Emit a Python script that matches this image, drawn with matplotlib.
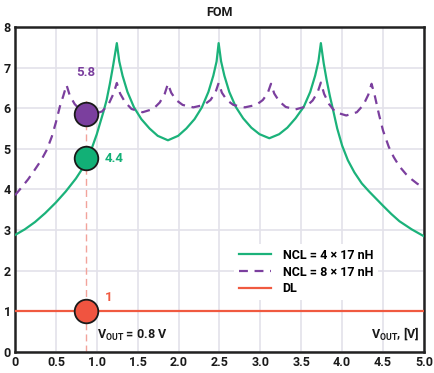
import matplotlib
matplotlib.use("Agg")
import matplotlib.pyplot as plt

plt.rcParams['font.family'] = ['Roboto', 'DejaVu Sans']
plt.rcParams['mathtext.fontset'] = 'custom'
plt.rcParams['mathtext.bf'] = 'Roboto:bold'
plt.rcParams['mathtext.rm'] = 'Roboto'

# NCL = 4 x 17 nH (green, solid)
ncl4_x = [0, 0.12, 0.245, 0.37, 0.5, 0.62, 0.745, 0.82, 0.88, 0.94, 1.0, 1.05, 1.08, 1.12, 1.16, 1.2, 1.245,
          1.275, 1.315, 1.375, 1.455, 1.545, 1.645, 1.745, 1.87, 1.995, 2.095, 2.195, 2.285, 2.365, 2.425, 2.465, 2.49,
          2.52, 2.56, 2.62, 2.70, 2.79, 2.89, 2.99, 3.11, 3.23, 3.33, 3.43, 3.53, 3.61, 3.67, 3.71, 3.74,
          3.775, 3.81, 3.85, 3.89, 3.94, 4.0, 4.07, 4.15, 4.24, 4.33, 4.5, 4.6, 4.7, 4.85, 5.0]
ncl4_y = [2.88, 3.02, 3.2, 3.42, 3.68, 3.95, 4.27, 4.5, 4.75, 5.02, 5.36, 5.7, 5.9, 6.2, 6.6, 7.05, 7.6,
          7.15, 6.8, 6.4, 6.02, 5.73, 5.5, 5.32, 5.21, 5.32, 5.5, 5.73, 6.02, 6.4, 6.8, 7.15, 7.6,
          7.15, 6.8, 6.4, 6.03, 5.75, 5.52, 5.36, 5.26, 5.36, 5.52, 5.75, 6.03, 6.4, 6.8, 7.15, 7.6,
          7.1, 6.7, 6.3, 5.95, 5.5, 5.08, 4.72, 4.42, 4.15, 3.95, 3.6, 3.4, 3.22, 3.02, 2.85]

# NCL = 8 x 17 nH (purple, dashed)
ncl8_x = [0, 0.08, 0.16, 0.24, 0.32, 0.39, 0.45, 0.5, 0.55, 0.59, 0.63,
          0.67, 0.73, 0.81, 0.94, 1.065, 1.145, 1.205, 1.245,
          1.285, 1.345, 1.425, 1.56, 1.69, 1.77, 1.83, 1.87,
          1.91, 1.97, 2.05, 2.18, 2.31, 2.39, 2.45, 2.49,
          2.53, 2.59, 2.67, 2.81, 2.95, 3.03, 3.09, 3.13,
          3.17, 3.23, 3.31, 3.43, 3.56, 3.64, 3.70, 3.74,
          3.78, 3.84, 3.92, 4.05, 4.18, 4.26, 4.32, 4.36,
          4.40, 4.45, 4.5, 4.57, 4.63, 4.7, 4.78, 4.85, 4.92, 5.0]
ncl8_y = [3.86, 4.05, 4.25, 4.48, 4.72, 4.98, 5.3, 5.65, 6.05, 6.3, 6.57,
          6.31, 6.1, 5.93, 5.84, 5.92, 6.1, 6.36, 6.62,
          6.36, 6.15, 5.98, 5.9, 5.98, 6.14, 6.35, 6.6,
          6.38, 6.2, 6.08, 6.02, 6.08, 6.2, 6.38, 6.62,
          6.38, 6.2, 6.08, 6.02, 6.08, 6.2, 6.37, 6.6,
          6.36, 6.17, 6.03, 5.97, 6.04, 6.19, 6.39, 6.63,
          6.35, 6.1, 5.9, 5.82, 5.9, 6.08, 6.33, 6.6,
          6.3, 5.85, 5.45, 5.05, 4.8, 4.57, 4.38, 4.25, 4.14, 4.05]

# DL (constant)
dl_x = [0, 5]
dl_y = [1, 1]

# operating point
v_op = 0.87
op_values = [5.86, 4.77, 1.0]
op_labels = ["5.8", "4.4", "1"]

green = "#1bb27a"
purple = "#7b3f9e"
red = "#f05a40"

fig = plt.figure(figsize=(4.35, 3.73), dpi=100)
ax = fig.add_axes([0.0345, 0.056, 0.94, 0.872])

ax.plot(ncl4_x, ncl4_y, color=green, lw=1.6, label="NCL = 4 × 17 nH", zorder=3)
ax.plot(ncl8_x, ncl8_y, color=purple, lw=1.6, ls=(0, (4, 3)), label="NCL = 8 × 17 nH", zorder=3)
ax.plot(dl_x, dl_y, color=red, lw=1.6, label="DL", zorder=3)

ax.plot([v_op, v_op], [0, 6.28], color="#f2a39b", lw=1.0, ls=(0, (5, 3)), zorder=2)

face = [purple, "#12b076", "#f05440"]
for val, fc in zip(op_values, face):
    ax.plot(v_op, val, marker="o", ms=17, mfc=fc, mec="#1a1a1a", mew=1.3, zorder=5)

ax.text(v_op, 6.72, op_labels[0], color=purple, fontsize=9.5, fontweight="bold", ha="center", va="bottom")
ax.text(1.1, 4.77, op_labels[1], color="#12b076", fontsize=9.5, fontweight="bold", ha="left", va="center")
ax.text(1.1, 1.35, op_labels[2], color=red, fontsize=9.5, fontweight="bold", ha="left", va="center")

ax.text(1.0, 0.42, r"$\mathbf{V_{OUT}}$ = 0.8 V", fontsize=9, fontweight="bold", ha="left", va="center", color="#1a1a1a")
ax.text(4.95, 0.45, r"$\mathbf{V_{OUT}}$, [V]", fontsize=9, fontweight="bold", ha="right", va="center", color="#1a1a1a")

ax.set_xlim(0, 5)
ax.set_ylim(0, 8)
ax.set_xticks([0, 0.5, 1, 1.5, 2, 2.5, 3, 3.5, 4, 4.5, 5])
ax.set_xticklabels(["0", "0.5", "1.0", "1.5", "2.0", "2.5", "3.0", "3.5", "4.0", "4.5", "5.0"])
ax.set_yticks(range(0, 9))
ax.tick_params(length=0, labelsize=9, pad=3, colors="#1a1a1a")
for lab in ax.get_xticklabels() + ax.get_yticklabels():
    lab.set_fontweight("bold")
ax.grid(True, color="#e3e2ea", lw=1.2, zorder=0)
ax.set_axisbelow(True)
for s in ax.spines.values():
    s.set_color("#222222")
    s.set_linewidth(1.8)

ax.set_title("FOM", fontsize=9, fontweight="bold", pad=8, color="#1a1a1a")

leg = ax.legend(loc="lower left", bbox_to_anchor=(0.52, 0.14), frameon=True, fontsize=9,
                handlelength=2.6, handletextpad=0.9, labelspacing=0.3, borderpad=0.4)
leg.get_frame().set_edgecolor("none")
leg.get_frame().set_facecolor("white")
leg.get_frame().set_alpha(1)
leg.get_frame().set_boxstyle("square", pad=0)
for t in leg.get_texts():
    t.set_fontweight("bold")

fig.savefig("out.png", dpi=100)
